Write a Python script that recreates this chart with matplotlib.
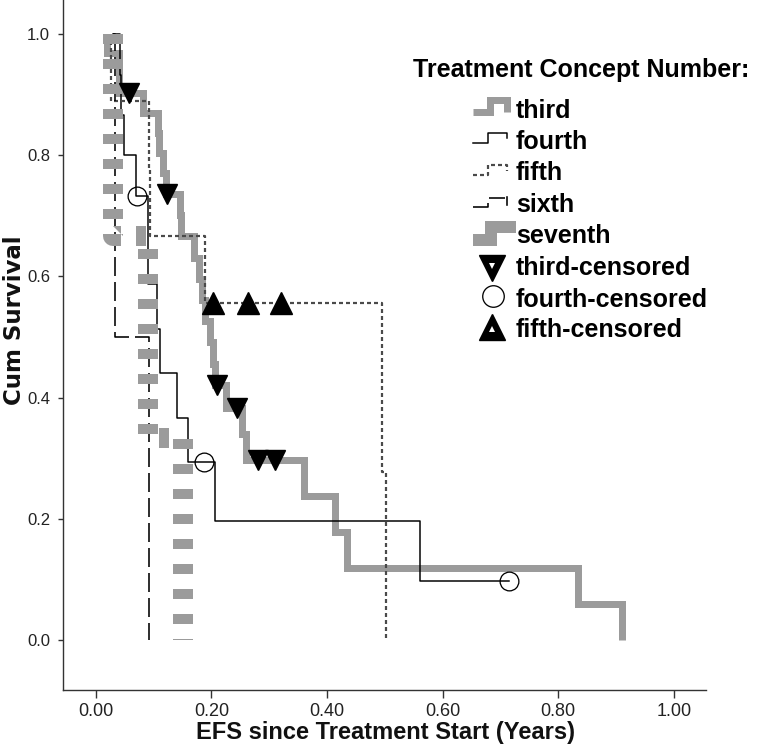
import matplotlib
matplotlib.use('Agg')
import matplotlib.pyplot as plt

plt.rcParams['lines.scale_dashes'] = False

# ---------------- data ----------------
x_ticks = [0.0, 0.2, 0.4, 0.6, 0.8, 1.0]
y_ticks = [0.0, 0.2, 0.4, 0.6, 0.8, 1.0]
x_tick_labels = ['0.00', '0.20', '0.40', '0.60', '0.80', '1.00']
y_tick_labels = ['0.0', '0.2', '0.4', '0.6', '0.8', '1.0']

# third treatment concept
third_start = 0.019
third_times = [0.019, 0.040, 0.041, 0.082, 0.107, 0.109, 0.117, 0.122, 0.146, 0.147,
               0.170, 0.1785, 0.1846, 0.1898, 0.1976, 0.2036, 0.2071, 0.2253, 0.253,
               0.2607, 0.360, 0.414, 0.4346, 0.834, 0.910]
third_surv = [0.968, 0.935, 0.903, 0.870, 0.836, 0.803, 0.770, 0.736, 0.701, 0.666,
              0.631, 0.596, 0.561, 0.526, 0.491, 0.456, 0.421, 0.382, 0.340,
              0.297, 0.238, 0.178, 0.119, 0.060, 0.0]
third_cens_t = [0.057, 0.123, 0.2097, 0.2443, 0.2806, 0.310]
third_cens_s = [0.903, 0.736, 0.421, 0.382, 0.297, 0.297]

# fourth
fourth_start = 0.029
fourth_times = [0.042, 0.043, 0.048, 0.0695, 0.0903, 0.0905, 0.106, 0.111, 0.1405,
                0.1595, 0.206, 0.561]
fourth_surv = [0.933, 0.867, 0.800, 0.733, 0.660, 0.587, 0.513, 0.440, 0.367,
               0.293, 0.196, 0.098]
fourth_cens_t = [0.0714, 0.187, 0.715]
fourth_cens_s = [0.733, 0.293, 0.098]

# fifth
fifth_start = 0.027
fifth_times = [0.027, 0.092, 0.093, 0.189, 0.495, 0.5015]
fifth_surv = [0.889, 0.778, 0.667, 0.556, 0.278, 0.0]
fifth_cens_t = [0.203, 0.263, 0.320]
fifth_cens_s = [0.556, 0.556, 0.556]

# sixth
sixth_start = 0.029
sixth_times = [0.0334, 0.092]
sixth_surv = [0.5, 0.0]

# seventh
seventh_start = 0.0298
seventh_times = [0.0298, 0.0903, 0.151]
seventh_surv = [0.667, 0.333, 0.0]

legend_labels = ['third', 'fourth', 'fifth', 'sixth', 'seventh',
                 'third-censored', 'fourth-censored', 'fifth-censored']
legend_title = 'Treatment Concept Number:'

# ---------------- styling ----------------
PX = 0.72  # points per pixel at dpi 100
GREY = '#9b9b9b'
REG = ['Liberation Sans', 'DejaVu Sans']


def km_path(start, times, surv, cens_t=()):
    xs = [start] + list(times)
    ys = [1.0] + list(surv)
    end = max([xs[-1]] + list(cens_t))
    if end > xs[-1]:
        xs.append(end)
        ys.append(ys[-1])
    return xs, ys


fig = plt.figure(figsize=(7.57, 7.46), dpi=100)
ax = fig.add_axes([63 / 757, 56 / 746, 642.6 / 757, 690 / 746])
ax.set_xlim(-0.0567, 1.055)
ax.set_ylim(-0.0825, 1.056)

styles = {
    'third': dict(color=GREY, lw=7 * PX, solid_joinstyle='miter', solid_capstyle='butt'),
    'fourth': dict(color='black', lw=1.5 * PX),
    'fifth': dict(color='#4a4a4a', lw=2.2 * PX, linestyle=(0, (4 * PX, 3 * PX))),
    'sixth': dict(color='black', lw=1.6 * PX, linestyle=(0, (19 * PX, 6 * PX))),
    'seventh': dict(color=GREY, lw=20 * PX, linestyle=(0, (10 * PX, 15 * PX)),
                    dash_capstyle='butt'),
}

xs, ys = km_path(third_start, third_times, third_surv, third_cens_t)
ax.step(xs, ys, where='post', zorder=2, **styles['third'])
xs, ys = km_path(fourth_start, fourth_times, fourth_surv, fourth_cens_t)
ax.step(xs, ys, where='post', zorder=3, **styles['fourth'])
xs, ys = km_path(fifth_start, fifth_times, fifth_surv, fifth_cens_t)
ax.step(xs, ys, where='post', zorder=3, **styles['fifth'])
xs, ys = km_path(sixth_start, sixth_times, sixth_surv)
ax.step(xs, ys, where='post', zorder=3, **styles['sixth'])
xs, ys = km_path(seventh_start, seventh_times, seventh_surv)
ax.step(xs, ys, where='post', zorder=4, **styles['seventh'])

# censored markers
ax.plot(third_cens_t, third_cens_s, linestyle='none', marker='v', ms=14.5,
        color='black', zorder=6)
ax.plot(fourth_cens_t, fourth_cens_s, linestyle='none', marker='o', ms=13.5,
        mfc='none', mec='black', mew=1.3 * PX, zorder=6)
ax.plot(fifth_cens_t, fifth_cens_s, linestyle='none', marker='^', ms=15.5,
        color='black', zorder=6)

# axes styling
for s in ['top', 'right']:
    ax.spines[s].set_visible(False)
for s in ['left', 'bottom']:
    ax.spines[s].set_color('#333333')
    ax.spines[s].set_linewidth(1.4 * PX)
ax.set_xticks(x_ticks)
ax.set_xticklabels(x_tick_labels)
ax.set_yticks(y_ticks)
ax.set_yticklabels(y_tick_labels)
ax.tick_params(axis='x', length=8 * PX, width=1.4 * PX, color='#333333', pad=5 * PX)
ax.tick_params(axis='y', length=5 * PX, width=1.4 * PX, color='#333333', pad=8 * PX)
for lab in ax.get_xticklabels():
    lab.set_family(REG)
    lab.set_fontsize(13)
    lab.set_color('#222222')
for lab in ax.get_yticklabels():
    lab.set_family(REG)
    lab.set_fontsize(12)
    lab.set_color('#222222')

fig.text(386 / 757, 1 - 732 / 746, 'EFS since Treatment Start (Years)',
         ha='center', va='center', fontsize=17, fontweight='bold', family=REG,
         color='#111111')
fig.text(26.5 / 757, 1 - 320 / 746, 'Cum Survival', rotation=90,
         ha='right', va='center', fontsize=16.5, fontweight='bold',
         family=['DejaVu Sans'], color='#111111')

# ---------------- legend (drawn in pixel coordinates) ----------------
ov = fig.add_axes([0, 0, 1, 1])
ov.set_xlim(0, 757)
ov.set_ylim(746, 0)
ov.axis('off')
ov.patch.set_alpha(0)

ov.text(413, 76.7, legend_title, ha='left', va='baseline', fontsize=18,
        fontweight='bold', family=REG, color='black')
baselines = [118.3, 149.3, 180.3, 211.7, 242.7, 275.0, 306.7, 336.7]
for lab, b in zip(legend_labels, baselines):
    ov.text(516, b, lab, ha='left', va='baseline', fontsize=18,
            fontweight='bold', family=REG, color='black')

ov.plot([473, 490, 490, 507, 507], [112, 112, 100, 100, 112], **styles['third'])
ov.plot([473, 488, 488, 507, 507], [143, 143, 133, 133, 138], **styles['fourth'])
ov.plot([473, 488, 488, 507, 507], [175, 175, 165, 165, 171], **styles['fifth'])
ov.plot([473, 488, 488, 505], [207, 207, 198, 198], **styles['sixth'])
ov.plot([507, 507], [197, 205], color='black', lw=1.6 * PX)
ov.plot([473, 491, 491, 516], [240, 240, 227, 227], color=GREY, lw=12 * PX,
        solid_capstyle='butt', solid_joinstyle='miter')
ov.plot([492], [268], marker='v', ms=19, color='black', linestyle='none')
ov.plot([492], [266], marker='v', ms=4, mew=0, color='white', linestyle='none')
ov.plot([492.5], [296], marker='o', ms=15.5, mfc='none', mec='black',
        mew=1.3 * PX, linestyle='none')
ov.plot([492], [327], marker='^', ms=19, color='black', linestyle='none')
ov.plot([492], [329], marker='^', ms=4, mew=0, color='white', linestyle='none')

fig.savefig('out.png', dpi=100)
